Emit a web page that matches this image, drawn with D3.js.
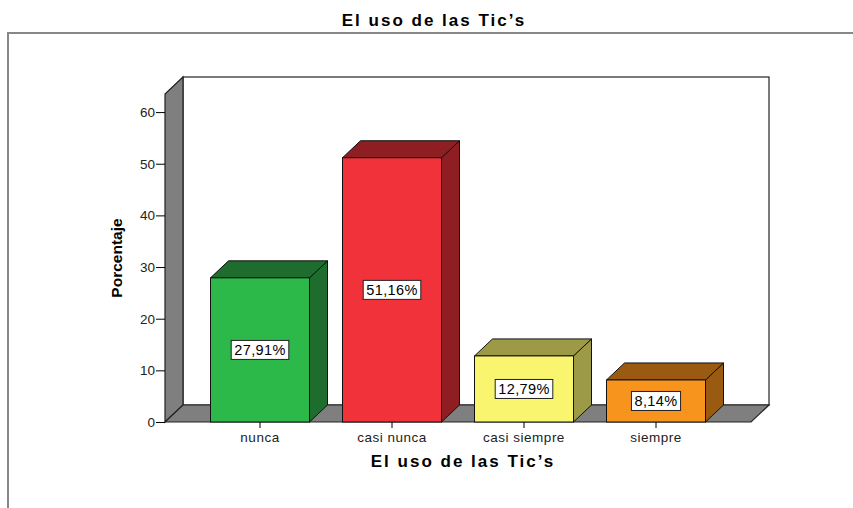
<!DOCTYPE html>
<meta charset="utf-8">
<style>
body { margin: 0; background-color: #fff; }
text { font-family: Arial, "Liberation Sans", sans-serif; }
.tick text { fill: #222; }
</style>
<body>
<svg width="853" height="508"></svg>
<script src="https://d3js.org/d3.v7.min.js"></script>
<script>
var categories = ["nunca", "casi nunca", "casi siempre", "siempre"];
var values = [27.91, 51.16, 12.79, 8.14];
var frontColors = ["#2db84a", "#f1323b", "#faf56f", "#f7941d"];
var darkColors = ["#1e6d2e", "#8f1e23", "#9c9a46", "#9a5a12"];
var yTicks = [0, 10, 20, 30, 40, 50, 60];

var svg = d3.select("svg");

// depth of the 3D effect
var dx = 18, dy = 17;
var wallX = 165, floorY = 422;

var x = d3.scaleBand()
    .domain(categories)
    .range([194, 722])
    .paddingInner(0.25)
    .paddingOuter(0.125);

var y = d3.scaleLinear()
    .domain([0, 63.5])
    .range([floorY, 94]);

var plotRight = 751;

// outer frame
svg.append("rect")
    .attr("x", 8).attr("y", 33)
    .attr("width", 900).attr("height", 600)
    .attr("fill", "none")
    .attr("stroke", "#888")
    .attr("stroke-width", 2);

svg.append("text")
    .attr("x", 434).attr("y", 26)
    .attr("text-anchor", "middle")
    .style("font-size", "17px")
    .style("font-weight", "bold")
    .style("letter-spacing", "2px")
    .text("El uso de las Tic\u2019s");

// back wall
svg.append("rect")
    .attr("x", wallX + dx).attr("y", y(63.5) - dy)
    .attr("width", plotRight - wallX)
    .attr("height", floorY - y(63.5))
    .attr("fill", "#fff")
    .attr("stroke", "#222")
    .attr("stroke-width", 1.2);

// left wall
svg.append("polygon")
    .attr("points", [
      [wallX, floorY], [wallX, y(63.5)],
      [wallX + dx, y(63.5) - dy], [wallX + dx, floorY - dy]
    ].join(" "))
    .attr("fill", "#7f7f7f")
    .attr("stroke", "#222")
    .attr("stroke-width", 1.2);

// floor
svg.append("polygon")
    .attr("points", [
      [wallX, floorY], [wallX + dx, floorY - dy],
      [plotRight + dx, floorY - dy], [plotRight, floorY]
    ].join(" "))
    .attr("fill", "#7f7f7f")
    .attr("stroke", "#222")
    .attr("stroke-width", 1.2);

// y axis
var yAxis = svg.append("g")
    .attr("transform", "translate(" + wallX + ",0)")
    .call(d3.axisLeft(y).tickValues(yTicks).tickSize(9).tickPadding(1));
yAxis.select(".domain").remove();
yAxis.selectAll("text").style("font-size", "13.5px");

// x axis
var xAxis = svg.append("g")
    .attr("transform", "translate(0," + floorY + ")")
    .call(d3.axisBottom(x).tickSize(6).tickPadding(4));
xAxis.select(".domain").remove();
xAxis.selectAll("text").style("font-size", "13.5px").style("letter-spacing", "0.5px");

svg.append("text")
    .attr("transform", "translate(122,258) rotate(-90)")
    .attr("text-anchor", "middle")
    .style("font-size", "15.5px")
    .style("font-weight", "bold")
    .text("Porcentaje");

svg.append("text")
    .attr("x", 463).attr("y", 467)
    .attr("text-anchor", "middle")
    .style("font-size", "17px")
    .style("font-weight", "bold")
    .style("letter-spacing", "2px")
    .text("El uso de las Tic\u2019s");

// bars
var bars = svg.selectAll(".bar")
    .data(values)
    .enter().append("g")
    .attr("class", "bar");

bars.append("polygon")
    .attr("points", function(d, i) {
      var x0 = x(categories[i]), x1 = x0 + x.bandwidth(), yv = y(d);
      return [[x1, floorY], [x1, yv], [x1 + dx, yv - dy], [x1 + dx, floorY - dy]].join(" ");
    })
    .attr("fill", function(d, i) { return darkColors[i]; })
    .attr("stroke", "#111").attr("stroke-width", 1);

bars.append("polygon")
    .attr("points", function(d, i) {
      var x0 = x(categories[i]), x1 = x0 + x.bandwidth(), yv = y(d);
      return [[x0, yv], [x1, yv], [x1 + dx, yv - dy], [x0 + dx, yv - dy]].join(" ");
    })
    .attr("fill", function(d, i) { return darkColors[i]; })
    .attr("stroke", "#111").attr("stroke-width", 1);

bars.append("rect")
    .attr("x", function(d, i) { return x(categories[i]); })
    .attr("y", function(d) { return y(d); })
    .attr("width", x.bandwidth())
    .attr("height", function(d) { return floorY - y(d); })
    .attr("fill", function(d, i) { return frontColors[i]; })
    .attr("stroke", "#111").attr("stroke-width", 1);

// value labels
bars.each(function(d, i) {
  var g = d3.select(this);
  var cx = x(categories[i]) + x.bandwidth() / 2;
  var cy = (y(d) + floorY) / 2;
  var box = g.append("rect").attr("fill", "#fff").attr("stroke", "#222").attr("stroke-width", 1);
  var t = g.append("text")
      .attr("x", cx).attr("y", cy + 5)
      .attr("text-anchor", "middle")
      .style("font-size", "14.5px")
      .style("letter-spacing", "0.4px")
      .text(d.toFixed(2).replace(".", ",") + "%");
  var bb = t.node().getBBox();
  box.attr("x", cx - bb.width / 2 - 3).attr("y", cy - 9.5)
     .attr("width", bb.width + 6).attr("height", 19);
});
</script>
